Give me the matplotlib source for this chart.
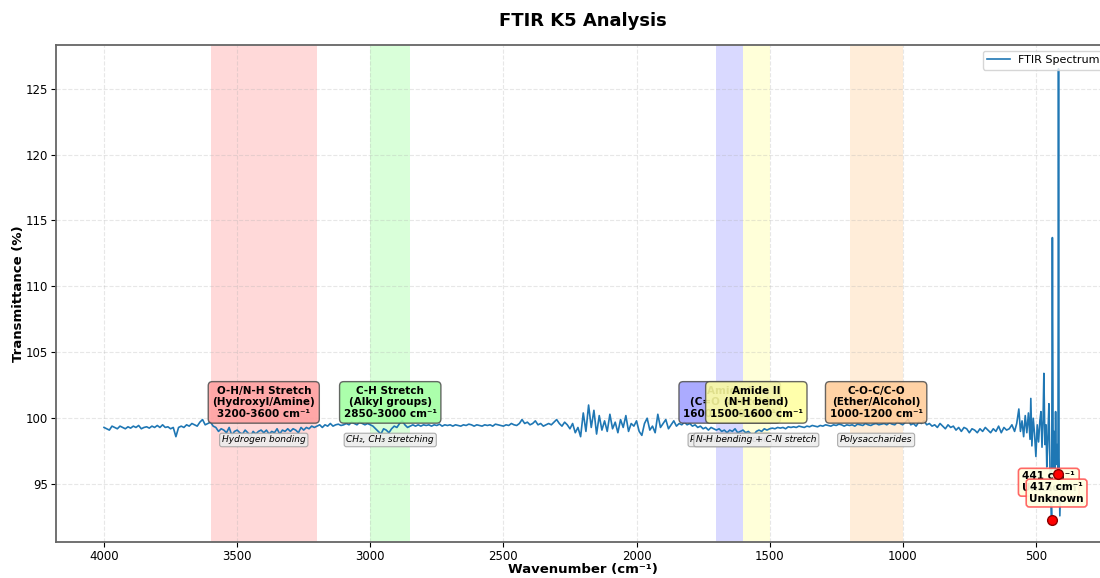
import numpy as np
import matplotlib.pyplot as plt
from matplotlib.colors import to_rgba

# Spectrum, main part: 4000 -> 610 cm-1 every 10 cm-1
main_wn = np.arange(4000, 609, -10)
main_t = [
    99.3, 99.2, 99.1, 99.4, 99.3, 99.2, 99.4, 99.3, 99.2, 99.35,
    99.25, 99.4, 99.3, 99.45, 99.2, 99.3, 99.35, 99.25, 99.4, 99.3,
    99.45, 99.3, 99.5, 99.3, 99.35, 99.2, 99.3, 98.6, 99.3, 99.4,
    99.3, 99.5, 99.4, 99.6, 99.5, 99.4, 99.7, 99.9, 99.5, 99.6,
    99.7, 99.4, 99.3, 99.0, 99.2, 99.1, 98.9, 99.3, 98.7, 99.0,
    99.1, 98.9, 98.8, 99.1, 98.9, 98.6, 99.0, 98.8, 99.0, 99.1,
    98.9, 99.1, 98.8, 99.0, 98.9, 99.2, 98.8, 99.1, 99.0, 99.2,
    99.0, 99.2, 99.1, 98.9, 99.3, 99.1, 99.3, 99.2, 99.4, 99.3,
    99.4, 99.5, 99.3, 99.5, 99.4, 99.6, 99.4, 99.5, 99.55, 99.45,
    99.5, 99.6, 99.5, 99.7, 99.6, 99.5, 99.7, 99.6, 99.5, 99.6,
    99.5, 99.4, 99.2, 99.0, 98.8, 99.2, 99.1, 98.9, 99.2, 99.4,
    99.3, 99.6, 99.8, 99.5, 99.3, 99.4, 99.5, 99.4, 99.5, 99.4,
    99.5, 99.45, 99.5, 99.4, 99.5, 99.45, 99.55, 99.4, 99.5, 99.45,
    99.5, 99.4, 99.5, 99.45, 99.4, 99.5, 99.45, 99.55, 99.5, 99.4,
    99.5, 99.45, 99.4, 99.5, 99.45, 99.5, 99.4, 99.55, 99.5, 99.45,
    99.4, 99.5, 99.45, 99.6, 99.5, 99.45, 99.6, 99.9, 99.6, 99.7,
    99.5, 99.6, 99.8, 99.5, 99.6, 99.4, 99.5, 99.6, 99.5, 99.7,
    99.9, 99.6, 99.4, 99.7, 99.5, 99.2, 99.6, 98.9, 99.3, 98.6,
    100.4, 99.0, 101.0, 99.3, 100.6, 98.8, 100.2, 99.1, 99.8, 99.0,
    100.3, 99.2, 99.7, 98.9, 99.9, 99.3, 100.2, 99.0, 99.6, 99.4,
    99.8, 99.0, 98.7, 99.6, 100.0, 99.1, 99.4, 98.9, 100.3, 99.3,
    99.6, 99.9, 99.2, 99.5, 99.8, 99.4, 99.6, 99.5, 99.7, 99.5,
    99.6, 99.4, 99.5, 99.3, 99.4, 99.2, 99.3, 99.1, 99.3, 99.2,
    99.1, 99.2, 99.0, 99.1, 98.9, 99.1, 99.0, 99.2, 98.9, 99.0,
    99.1, 98.9, 99.0, 98.8, 98.7, 99.0, 99.1, 99.0, 99.2, 99.1,
    99.2, 99.25, 99.2, 99.3, 99.25, 99.3, 99.2, 99.35, 99.3, 99.35,
    99.3, 99.4, 99.35, 99.3, 99.4, 99.35, 99.45, 99.4, 99.35, 99.45,
    99.4, 99.5, 99.45, 99.4, 99.5, 99.45, 99.55, 99.5, 99.4, 99.5,
    99.45, 99.5, 99.4, 99.55, 99.5, 99.45, 99.6, 99.5, 99.45, 99.55,
    99.6, 99.5, 99.55, 99.6, 99.5, 99.65, 99.55, 99.5, 99.7, 99.6,
    99.5, 99.7, 99.9, 99.5, 99.6, 99.4, 99.7, 99.6, 99.8, 99.5,
    99.6, 99.4, 99.5, 99.3, 99.6, 99.4, 99.2, 99.5, 99.3, 99.4,
    99.1, 99.3, 99.0, 99.3, 99.2, 98.9, 99.2, 99.1, 98.9, 99.2,
    99.0, 99.3, 99.1, 98.9, 99.2, 99.0, 99.4, 98.9, 99.3, 99.1,
]

# Low-wavenumber tail below 600 cm-1
tail_wn = [600, 590, 580, 572, 564, 558, 552, 546, 540, 534,
           528, 522, 519, 515, 510, 505, 500, 495, 490, 485,
           481, 477, 473, 470, 466, 462, 459, 455, 451, 447,
           444, 441, 438, 435, 432, 429, 426, 423, 420, 417,
           415, 413, 410, 406, 402]
tail_t = [99.2, 99.5, 99.0, 99.6, 100.7, 99.0, 99.8, 98.6, 100.2, 98.9,
          100.4, 98.4, 101.5, 97.9, 100.0, 98.8, 97.1, 99.5, 98.2, 99.8,
          100.5, 97.8, 99.9, 103.4, 98.0, 99.5, 96.3, 98.5, 101.1, 96.0,
          94.5, 92.3, 113.7, 96.2, 99.0, 95.9, 100.5, 96.5, 98.0, 95.8,
          126.5, 97.0, 92.6, 96.0, 94.0]

wavenumber = np.concatenate([main_wn, tail_wn])
transmittance = np.concatenate([main_t, tail_t])

# Functional group regions: label, low, high, band colour, box colour, note
regions = [
    ("O-H/N-H Stretch\n(Hydroxyl/Amine)\n3200-3600 cm\u207b\u00b9", 3200, 3600, "red", "#ffa0a0", "Hydrogen bonding"),
    ("C-H Stretch\n(Alkyl groups)\n2850-3000 cm\u207b\u00b9", 2850, 3000, "lime", "#a0ffa0", "CH\u2082, CH\u2083 stretching"),
    ("Amide I\n(C=O stretch)\n1600-1700 cm\u207b\u00b9", 1600, 1700, "blue", "#a0a0ff", "Protein backbone"),
    ("Amide II\n(N-H bend)\n1500-1600 cm\u207b\u00b9", 1500, 1600, "yellow", "#ffffa0", "N-H bending + C-N stretch"),
    ("C-O-C/C-O\n(Ether/Alcohol)\n1000-1200 cm\u207b\u00b9", 1000, 1200, "darkorange", "#ffcc99", "Polysaccharides"),
]

# Detected minima
peak_wn = [441, 417]
peak_names = ["Unknown", "Unknown"]
peak_offsets = [(-2, 27), (-1, -14)]

fig = plt.figure(figsize=(11, 5.78), dpi=100)
ax = fig.add_axes([0.051, 0.062, 0.958, 0.860])

for label, lo, hi, band, box, note in regions:
    ax.axvspan(lo, hi, color=band, alpha=0.15, lw=0, zorder=0)

ax.plot(wavenumber, transmittance, color="#1f77b4", lw=1.2, label="FTIR Spectrum", zorder=2)

for label, lo, hi, band, box, note in regions:
    mid = (lo + hi) / 2
    ax.text(mid, 101.2, label, ha="center", va="center", fontsize=7.5, fontweight="bold",
            zorder=4,
            bbox=dict(boxstyle="round,pad=0.4", facecolor=to_rgba(box, 0.88),
                      edgecolor=(0.3, 0.3, 0.3, 0.85), lw=1))
    ax.text(mid, 98.35, note, ha="center", va="center", fontsize=6.5, style="italic",
            zorder=4,
            bbox=dict(boxstyle="round,pad=0.25", facecolor=(0.93, 0.93, 0.93, 0.9),
                      edgecolor=(0.6, 0.6, 0.6, 0.8), lw=0.8))

for wn, name, off in zip(peak_wn, peak_names, peak_offsets):
    t = transmittance[list(wavenumber).index(wn)]
    ax.plot(wn, t, "o", color="red", mec="darkred", ms=7, zorder=7)
    ax.annotate(f"{wn} cm\u207b\u00b9\n{name}", xy=(wn, t), xytext=off,
                textcoords="offset points", ha="center", va="center",
                fontsize=7.5, fontweight="bold", zorder=6,
                bbox=dict(boxstyle="round,pad=0.3", facecolor=(1, 1, 0.88, 0.92),
                          edgecolor=(1, 0.3, 0.3, 0.85), lw=1.2))

ax.set_xlim(4180, 222)
ax.set_ylim(90.6, 128.3)
ax.set_xticks([4000, 3500, 3000, 2500, 2000, 1500, 1000, 500])
ax.set_yticks([95, 100, 105, 110, 115, 120, 125])
ax.tick_params(labelsize=8.5, pad=2.5)
ax.grid(True, linestyle="--", alpha=0.3)
for s in ax.spines.values():
    s.set_color("#666666")
    s.set_linewidth(1.3)

ax.set_title("FTIR K5 Analysis", fontsize=13, fontweight="bold", pad=14)
ax.set_xlabel("Wavenumber (cm\u207b\u00b9)", fontsize=9.5, fontweight="bold", labelpad=0)
ax.set_ylabel("Transmittance (%)", fontsize=9.5, fontweight="bold", labelpad=0)
ax.legend(loc="upper right", fontsize=8)

fig.savefig("out.png", dpi=100)
